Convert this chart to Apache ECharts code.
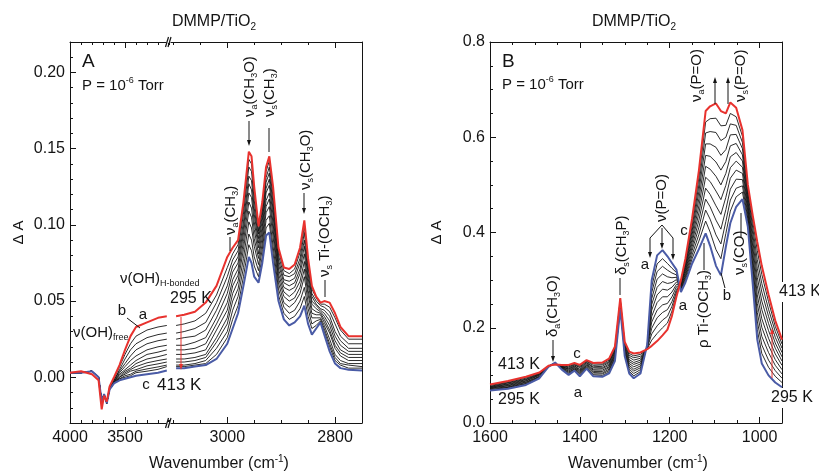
<!DOCTYPE html>
<html>
<head>
<meta charset="utf-8">
<script src="https://cdn.jsdelivr.net/npm/echarts@6/dist/echarts.min.js"></script>
<style>
html,body{margin:0;padding:0;background:#fff}
#chart{width:819px;height:473px}
</style>
</head>
<body>
<div id="chart"></div>
<script>
// ---------- Panel A, high-wavenumber segment (4000-3120 cm-1) ----------
const wnA_high = [4000,3900,3800,3740,3712,3690,3666,3640,3600,3550,3500,3450,3400,3300,3200,3120];
const aHighRed  = [0.003,0.004,0.002,-0.002,-0.021,-0.012,-0.016,-0.006,0.000,0.008,0.018,0.027,0.033,0.036,0.039,0.040];
const aHighBlue = [0.003,0.003,0.004,0.000,-0.016,-0.011,-0.017,-0.008,-0.004,-0.002,-0.001,0.000,0.001,0.002,0.003,0.0044];
const aHighMid = [
  [0.003,0.003,0.004,0.000,-0.016,-0.011,-0.017,-0.006,-0.001,0.007,0.015,0.022,0.027,0.031,0.033,0.034],
  [0.003,0.003,0.004,0.000,-0.016,-0.011,-0.017,-0.007,-0.002,0.005,0.012,0.018,0.022,0.026,0.028,0.029],
  [0.003,0.003,0.004,0.000,-0.016,-0.011,-0.017,-0.007,-0.002,0.004,0.009,0.014,0.018,0.022,0.024,0.025],
  [0.003,0.003,0.004,0.000,-0.016,-0.011,-0.017,-0.007,-0.003,0.003,0.007,0.011,0.014,0.018,0.020,0.021],
  [0.003,0.003,0.004,0.000,-0.016,-0.011,-0.017,-0.007,-0.003,0.002,0.005,0.008,0.011,0.015,0.0165,0.018],
  [0.003,0.003,0.004,0.000,-0.016,-0.011,-0.017,-0.008,-0.003,0.001,0.004,0.006,0.009,0.012,0.0135,0.015],
  [0.003,0.003,0.004,0.000,-0.016,-0.011,-0.017,-0.008,-0.003,0.000,0.003,0.005,0.007,0.0095,0.011,0.012],
  [0.003,0.003,0.004,0.000,-0.016,-0.011,-0.017,-0.008,-0.004,0.000,0.002,0.004,0.005,0.0075,0.0088,0.010],
  [0.003,0.003,0.004,0.000,-0.016,-0.011,-0.017,-0.008,-0.004,-0.001,0.001,0.002,0.004,0.0055,0.0068,0.008],
  [0.003,0.003,0.004,0.000,-0.016,-0.011,-0.017,-0.008,-0.004,-0.001,0.000,0.001,0.003,0.004,0.0052,0.007]
];

// ---------- Panel A, C-H stretching segment (3095-2750 cm-1) ----------
const wnA_low = [3095,3080,3060,3040,3020,3000,2990,2980,2970,2960,2955,2950,2942,2935,2928,2922,2915,2905,2895,2885,2875,2865,2857,2850,2843,2835,2827,2820,2810,2800,2790,2775,2750];
const aLowRed  = [0.040,0.041,0.043,0.049,0.060,0.079,0.085,0.090,0.115,0.148,0.145,0.125,0.099,0.115,0.138,0.145,0.125,0.085,0.072,0.071,0.074,0.085,0.103,0.078,0.060,0.053,0.049,0.050,0.049,0.042,0.033,0.027,0.027];
const aLowBlue = [0.006,0.006,0.007,0.008,0.012,0.022,0.032,0.042,0.060,0.079,0.075,0.066,0.062,0.075,0.093,0.095,0.075,0.050,0.038,0.034,0.036,0.040,0.047,0.035,0.028,0.032,0.036,0.028,0.017,0.009,0.006,0.005,0.0044];
const aLowMid = [
  [0.034,0.035,0.037,0.042,0.054,0.072,0.081,0.087,0.111,0.143,0.140,0.121,0.096,0.112,0.135,0.142,0.122,0.083,0.070,0.068,0.071,0.082,0.099,0.075,0.058,0.052,0.048,0.048,0.046,0.039,0.031,0.025,0.025],
  [0.029,0.030,0.032,0.036,0.049,0.066,0.077,0.083,0.107,0.138,0.135,0.116,0.094,0.109,0.131,0.138,0.118,0.080,0.067,0.066,0.068,0.078,0.095,0.072,0.055,0.050,0.047,0.046,0.043,0.035,0.027,0.022,0.022],
  [0.025,0.026,0.027,0.031,0.044,0.060,0.073,0.079,0.102,0.132,0.129,0.111,0.091,0.106,0.128,0.134,0.114,0.077,0.064,0.063,0.065,0.075,0.090,0.068,0.053,0.048,0.045,0.044,0.040,0.030,0.024,0.019,0.019],
  [0.021,0.021,0.023,0.026,0.039,0.055,0.069,0.075,0.098,0.127,0.123,0.107,0.088,0.103,0.124,0.130,0.110,0.074,0.062,0.060,0.062,0.071,0.086,0.065,0.050,0.047,0.044,0.042,0.037,0.027,0.021,0.017,0.017],
  [0.018,0.018,0.019,0.022,0.035,0.049,0.064,0.071,0.094,0.121,0.118,0.102,0.085,0.099,0.121,0.126,0.106,0.071,0.059,0.057,0.059,0.068,0.081,0.061,0.048,0.045,0.043,0.040,0.034,0.024,0.018,0.015,0.015],
  [0.015,0.015,0.016,0.018,0.031,0.044,0.060,0.067,0.089,0.115,0.111,0.097,0.081,0.096,0.116,0.121,0.101,0.068,0.056,0.053,0.056,0.063,0.076,0.057,0.045,0.043,0.042,0.038,0.031,0.021,0.016,0.013,0.013],
  [0.012,0.012,0.013,0.015,0.026,0.039,0.055,0.063,0.084,0.109,0.105,0.091,0.078,0.092,0.112,0.117,0.097,0.065,0.053,0.050,0.052,0.059,0.071,0.054,0.042,0.041,0.041,0.036,0.029,0.019,0.014,0.011,0.011],
  [0.010,0.010,0.011,0.013,0.023,0.035,0.050,0.058,0.078,0.102,0.098,0.086,0.074,0.088,0.108,0.112,0.092,0.062,0.049,0.046,0.049,0.055,0.066,0.049,0.039,0.039,0.039,0.034,0.025,0.015,0.011,0.009,0.009],
  [0.008,0.008,0.009,0.011,0.019,0.030,0.044,0.053,0.072,0.094,0.090,0.079,0.070,0.084,0.103,0.106,0.086,0.058,0.046,0.042,0.044,0.050,0.059,0.045,0.035,0.037,0.038,0.032,0.022,0.013,0.009,0.008,0.007],
  [0.007,0.007,0.008,0.009,0.015,0.026,0.038,0.047,0.066,0.087,0.083,0.073,0.066,0.079,0.098,0.101,0.081,0.054,0.042,0.038,0.040,0.045,0.053,0.040,0.032,0.034,0.037,0.030,0.020,0.011,0.008,0.006,0.006]
];

// ---------- Panel B (1600-950 cm-1) ----------
const wnB = [1600,1560,1520,1490,1470,1455,1440,1425,1412,1400,1385,1370,1350,1335,1322,1310,1300,1290,1280,1265,1250,1240,1228,1216,1205,1195,1185,1175,1165,1150,1135,1120,1110,1097,1086,1075,1065,1052,1038,1026,1015,1005,995,980,965,950];
const bRed  = [0.081,0.088,0.097,0.106,0.120,0.123,0.122,0.122,0.126,0.122,0.132,0.126,0.127,0.135,0.160,0.262,0.170,0.150,0.146,0.148,0.155,0.162,0.172,0.184,0.196,0.225,0.265,0.300,0.345,0.430,0.530,0.655,0.665,0.671,0.655,0.650,0.673,0.662,0.615,0.500,0.435,0.380,0.330,0.270,0.215,0.175];
const bBlue = [0.068,0.072,0.080,0.094,0.118,0.127,0.112,0.101,0.110,0.098,0.114,0.098,0.097,0.104,0.130,0.240,0.140,0.104,0.094,0.104,0.165,0.300,0.352,0.363,0.350,0.336,0.322,0.275,0.295,0.335,0.365,0.398,0.372,0.330,0.310,0.370,0.420,0.454,0.470,0.412,0.290,0.175,0.125,0.100,0.085,0.075];
const bMid = [
  [0.080,0.087,0.096,0.105,0.120,0.123,0.121,0.120,0.125,0.120,0.130,0.124,0.124,0.132,0.157,0.260,0.167,0.146,0.141,0.144,0.156,0.174,0.188,0.200,0.210,0.235,0.270,0.298,0.341,0.422,0.515,0.632,0.639,0.640,0.624,0.625,0.650,0.643,0.602,0.492,0.422,0.362,0.312,0.255,0.203,0.166],
  [0.079,0.085,0.094,0.104,0.120,0.124,0.120,0.118,0.123,0.118,0.129,0.121,0.122,0.129,0.155,0.258,0.165,0.142,0.137,0.140,0.157,0.187,0.204,0.216,0.224,0.245,0.275,0.296,0.336,0.413,0.500,0.609,0.612,0.610,0.593,0.600,0.628,0.625,0.589,0.484,0.409,0.343,0.293,0.239,0.192,0.157],
  [0.077,0.084,0.092,0.103,0.119,0.124,0.119,0.116,0.122,0.116,0.127,0.118,0.119,0.127,0.152,0.256,0.162,0.138,0.132,0.136,0.158,0.199,0.221,0.232,0.238,0.255,0.280,0.293,0.332,0.404,0.486,0.586,0.586,0.579,0.562,0.574,0.605,0.606,0.576,0.476,0.396,0.325,0.275,0.224,0.180,0.148],
  [0.076,0.082,0.091,0.102,0.119,0.124,0.118,0.114,0.120,0.113,0.126,0.116,0.116,0.124,0.149,0.254,0.159,0.133,0.127,0.132,0.159,0.212,0.237,0.248,0.251,0.265,0.286,0.291,0.327,0.396,0.471,0.562,0.560,0.548,0.531,0.549,0.582,0.587,0.563,0.468,0.383,0.306,0.256,0.209,0.168,0.139],
  [0.075,0.081,0.089,0.101,0.119,0.125,0.118,0.113,0.119,0.111,0.124,0.113,0.114,0.121,0.147,0.252,0.157,0.129,0.123,0.128,0.160,0.224,0.253,0.265,0.265,0.275,0.291,0.289,0.323,0.387,0.456,0.539,0.533,0.518,0.500,0.524,0.559,0.568,0.550,0.460,0.370,0.288,0.238,0.194,0.157,0.130],
  [0.074,0.079,0.088,0.100,0.119,0.125,0.117,0.111,0.117,0.109,0.122,0.111,0.111,0.118,0.144,0.250,0.154,0.125,0.118,0.124,0.160,0.237,0.269,0.281,0.279,0.285,0.296,0.287,0.318,0.379,0.441,0.516,0.507,0.487,0.469,0.499,0.536,0.550,0.537,0.453,0.357,0.269,0.219,0.178,0.145,0.121],
  [0.073,0.078,0.086,0.098,0.119,0.126,0.116,0.109,0.116,0.107,0.121,0.108,0.108,0.116,0.141,0.248,0.151,0.121,0.113,0.120,0.161,0.249,0.285,0.297,0.293,0.295,0.301,0.284,0.314,0.370,0.426,0.493,0.480,0.456,0.438,0.474,0.514,0.531,0.524,0.445,0.344,0.251,0.201,0.163,0.133,0.112],
  [0.072,0.076,0.085,0.097,0.119,0.126,0.115,0.107,0.114,0.105,0.119,0.106,0.105,0.113,0.138,0.246,0.148,0.117,0.109,0.116,0.162,0.261,0.302,0.313,0.307,0.305,0.306,0.282,0.309,0.362,0.411,0.470,0.454,0.426,0.407,0.448,0.491,0.512,0.511,0.437,0.331,0.232,0.182,0.148,0.121,0.103],
  [0.070,0.075,0.083,0.096,0.118,0.126,0.114,0.105,0.113,0.103,0.117,0.103,0.103,0.110,0.136,0.244,0.146,0.113,0.104,0.112,0.163,0.274,0.318,0.329,0.321,0.315,0.311,0.280,0.305,0.353,0.396,0.447,0.428,0.395,0.376,0.423,0.468,0.493,0.498,0.429,0.318,0.214,0.164,0.132,0.110,0.094],
  [0.069,0.074,0.082,0.095,0.118,0.127,0.113,0.103,0.112,0.100,0.116,0.101,0.100,0.107,0.133,0.242,0.143,0.109,0.099,0.108,0.164,0.286,0.334,0.345,0.335,0.325,0.316,0.278,0.300,0.345,0.382,0.424,0.401,0.364,0.345,0.398,0.445,0.475,0.485,0.421,0.305,0.196,0.146,0.117,0.098,0.085]
];

// ---------- axis ticks and labels ----------
const ticksA_high = [4000, 3500];
const ticksA_low  = [3000, 2800];
const ticksB      = [1600, 1400, 1200, 1000];
const yTicksA     = [0, 0.05, 0.10, 0.15, 0.20];
const yTicksB     = [0, 0.2, 0.4, 0.6, 0.8];

// ---------- styling ----------
const FONT = "'Liberation Sans', Arial, Helvetica, sans-serif";
const INK = '#141414';
const RED = '#e8322e';
const BLUE = '#4a5ba6';

const chart = echarts.init(document.getElementById('chart'), null, {renderer: 'canvas'});

const pairs = (xs, ys) => xs.map((x, i) => [x, ys[i]]);

function spectrum(name, xs, ys, xi, yi, color, width, z) {
  return {
    type: 'line', name, xAxisIndex: xi, yAxisIndex: yi,
    data: pairs(xs, ys), symbol: 'none', silent: true, animation: false,
    lineStyle: {color, width}, z
  };
}

function panelSeries(tag, xs, red, blue, mids, xi, yi) {
  const out = mids.map((m, i) => spectrum(tag + '-mid' + (i + 1), xs, m, xi, yi, INK, 0.9, 2));
  out.push(spectrum(tag + '-blue', xs, blue, xi, yi, BLUE, 2, 3));
  out.push(spectrum(tag + '-red', xs, red, xi, yi, RED, 2, 4));
  return out;
}

const lineStyle = {color: INK, width: 1};
const labelStyle = {fontSize: 16, color: INK, fontFamily: FONT};

// four x axes per grid: bottom (line, minor ticks, labels), bottom majors, top line/minor, top majors
function xAxes(grid, min, max, step, labels) {
  const base = {type: 'value', gridIndex: grid, min, max, inverse: true, splitLine: {show: false}};
  return [
    Object.assign({}, base, {position: 'bottom', interval: step,
      axisLine: {show: true, onZero: false, lineStyle},
      axisTick: {show: true, inside: true, length: 3, lineStyle},
      axisLabel: Object.assign({customValues: labels, margin: 7, formatter: v => String(v)}, labelStyle)}),
    Object.assign({}, base, {position: 'bottom',
      axisLine: {show: false, onZero: false},
      axisTick: {show: true, inside: true, length: 6, customValues: labels, lineStyle},
      axisLabel: {show: false}}),
    Object.assign({}, base, {position: 'top', interval: step,
      axisLine: {show: true, onZero: false, lineStyle},
      axisTick: {show: true, inside: true, length: 3, lineStyle},
      axisLabel: {show: false}}),
    Object.assign({}, base, {position: 'top',
      axisLine: {show: false, onZero: false},
      axisTick: {show: true, inside: true, length: 6, customValues: labels, lineStyle},
      axisLabel: {show: false}})
  ];
}

function yAxesLeft(grid, min, max, step, labels, digits, gap) {
  const base = {type: 'value', gridIndex: grid, min, max, splitLine: {show: false}, position: 'left'};
  return [
    Object.assign({}, base, {interval: step,
      axisLine: {show: true, onZero: false, lineStyle},
      axisTick: {show: true, inside: true, length: 3, lineStyle},
      axisLabel: Object.assign({customValues: labels, margin: 5, formatter: v => v.toFixed(digits)}, labelStyle),
      name: 'Δ A', nameLocation: 'middle', nameGap: gap,
      nameTextStyle: {fontSize: 15, color: INK, fontFamily: FONT}}),
    Object.assign({}, base, {
      axisLine: {show: false, onZero: false},
      axisTick: {show: true, inside: true, length: 6, customValues: labels, lineStyle},
      axisLabel: {show: false}})
  ];
}

function yAxisRight(grid, min, max) {
  return {type: 'value', gridIndex: grid, min, max, position: 'right', splitLine: {show: false},
    axisLine: {show: true, onZero: false, lineStyle}, axisTick: {show: false}, axisLabel: {show: false}};
}

const grids = [
  {left: 70, top: 42, width: 99, height: 381, outerBoundsMode: 'none'},   // A, 4000-3100
  {left: 168, top: 42, width: 194, height: 381, outerBoundsMode: 'none'}, // A, 3110-2750
  {left: 490, top: 42, width: 292, height: 381, outerBoundsMode: 'none'}  // B
];

const xAxis = [].concat(
  xAxes(0, 3100, 4000, 100, ticksA_high),
  xAxes(1, 2750, 3110, 50, ticksA_low),
  xAxes(2, 950, 1600, 50, ticksB)
);
const yAxis = [].concat(
  yAxesLeft(0, -0.03, 0.22, 0.01, yTicksA, 2, 44),
  [yAxisRight(1, -0.03, 0.22)],
  yAxesLeft(2, 0, 0.8, 0.05, yTicksB, 1, 46),
  [yAxisRight(2, 0, 0.8)]
);
// yAxis indices: 0 = A left, 2 = A right, 3 = B
const series = [].concat(
  panelSeries('A-high', wnA_high, aHighRed, aHighBlue, aHighMid, 0, 0),
  panelSeries('A-low', wnA_low, aLowRed, aLowBlue, aLowMid, 4, 2),
  panelSeries('B', wnB, bRed, bBlue, bMid, 8, 3)
);

// ---------- annotation helpers ----------
function rich(size, color) {
  const s = Math.round(size * 0.62);
  return {
    s: {fontSize: s, lineHeight: s, verticalAlign: 'bottom', fill: color, fontFamily: FONT},
    p: {fontSize: s, lineHeight: s, verticalAlign: 'top', fill: color, fontFamily: FONT}
  };
}
function txt(x, y, text, o) {
  o = o || {};
  const size = o.size || 15, color = o.color || INK;
  const style = {text, fill: color, fontSize: size, fontFamily: FONT,
    align: o.align || 'left', verticalAlign: o.va || 'middle',
    lineHeight: size + 4, rich: rich(size, color)};
  if (o.bg) { style.backgroundColor = o.bg; style.padding = [0, 2, 0, 2]; }
  return {type: 'text', x, y, rotation: o.rot || 0, z: 100, silent: true, style};
}
// vertical label reading upward, starting at (x, y)
const vtxt = (x, y, text, o) => txt(x, y, text, Object.assign({rot: Math.PI / 2}, o || {}));
function seg(x1, y1, x2, y2, color, w) {
  return {type: 'line', z: 100, silent: true, shape: {x1, y1, x2, y2}, style: {stroke: color || INK, lineWidth: w || 1}};
}
function arrow(x1, y1, x2, y2, color, w) {
  color = color || INK;
  const a = Math.atan2(y2 - y1, x2 - x1), hl = 6, hw = 4;
  const bx = x2 - hl * Math.cos(a), by = y2 - hl * Math.sin(a);
  const px = -Math.sin(a) * hw / 2, py = Math.cos(a) * hw / 2;
  return [seg(x1, y1, bx, by, color, w || 1),
    {type: 'polygon', z: 100, silent: true, shape: {points: [[x2, y2], [bx + px, by + py], [bx - px, by - py]]}, style: {fill: color}}];
}
function breakMark(x, y) {
  return [
    {type: 'rect', z: 99, silent: true, shape: {x: x - 2, y: y - 1, width: 4, height: 2}, style: {fill: '#fff'}},
    seg(x - 3, y + 5, x, y - 5, INK, 1.2),
    seg(x - 0.5, y + 5, x + 2.5, y - 5, INK, 1.2)
  ];
}

const graphics = [].concat(
  // titles and axis names
  txt(214, 22, 'DMMP/TiO{s|2}', {align: 'center', size: 16}),
  txt(634, 22, 'DMMP/TiO{s|2}', {align: 'center', size: 16}),
  txt(219, 464, 'Wavenumber (cm{p|-1})', {align: 'center', size: 16}),
  txt(638, 464, 'Wavenumber (cm{p|-1})', {align: 'center', size: 16}),
  breakMark(168.5, 423), breakMark(168.5, 42),

  // panel A
  txt(82, 62, 'A', {size: 19}),
  txt(82, 86, 'P = 10{p|-6} Torr'),
  vtxt(250, 117, 'ν{s|a}(CH{s|3}O)'),
  arrow(249, 121, 249, 146),
  vtxt(270, 117, 'ν{s|s}(CH{s|3})'),
  seg(269, 128, 269, 152),
  vtxt(306, 190, 'ν{s|s}(CH{s|3}O)'),
  arrow(304, 193, 304, 214),
  vtxt(325, 277, 'ν{s|s} Ti-(OCH{s|3})'),
  seg(325, 280, 325, 297),
  vtxt(231, 235, 'ν{s|a}(CH{s|3})'),
  seg(230, 237, 230, 251),
  txt(120, 279, 'ν(OH){s|H-bonded}'),
  txt(170, 299, '295 K', {size: 16}),
  txt(122, 311, 'b', {align: 'center'}),
  txt(143, 315, 'a', {align: 'center'}),
  seg(127, 318, 140, 328),
  txt(73, 333, 'ν(OH){s|free}'),
  txt(146, 385, 'c', {align: 'center'}),
  txt(157, 385, '413 K', {size: 17}),
  arrow(181, 317, 181, 370, RED, 1),

  // panel B
  txt(502, 62, 'B', {size: 19}),
  txt(502, 85, 'P = 10{p|-6} Torr'),
  vtxt(697, 102, 'ν{s|a}(P=O)'),
  arrow(715, 104, 715, 77),
  vtxt(741, 102, 'ν{s|s}(P=O)'),
  arrow(728, 104, 728, 77),
  vtxt(622, 275, 'δ{s|s}(CH{s|3}P)'),
  seg(620, 278, 620, 295),
  vtxt(662, 222, 'ν(P=O)'),
  seg(662, 225, 650, 238), seg(662, 225, 673, 238),
  arrow(650, 238, 650, 258), arrow(673, 238, 673, 260), arrow(662, 228, 662, 249),
  txt(645, 265, 'a', {align: 'center'}),
  txt(684, 231, 'c', {align: 'center'}),
  vtxt(704, 348, 'ρ Ti-(OCH{s|3})'),
  seg(704, 243, 704, 270),
  txt(683, 306, 'a', {align: 'center'}),
  txt(727, 296, 'b', {align: 'center'}),
  seg(721, 273, 725, 288),
  vtxt(740, 275, 'ν{s|s}(CO)'),
  seg(741, 213, 741, 238),
  txt(777, 292, '413 K', {size: 16, bg: '#fff'}),
  txt(769, 398, '295 K', {size: 16, bg: '#fff'}),
  arrow(772, 378, 772, 328, RED, 1),
  txt(498, 365, '413 K', {size: 16}),
  txt(498, 400, '295 K', {size: 16}),
  txt(577, 354, 'c', {align: 'center'}),
  txt(578, 393, 'a', {align: 'center'}),
  vtxt(553, 337, 'δ{s|a}(CH{s|3}O)'),
  arrow(553, 340, 553, 362)
);

chart.setOption({
  animation: false,
  backgroundColor: '#fff',
  textStyle: {fontFamily: FONT},
  grid: grids,
  xAxis,
  yAxis,
  series,
  graphic: {elements: graphics}
});
</script>
</body>
</html>
